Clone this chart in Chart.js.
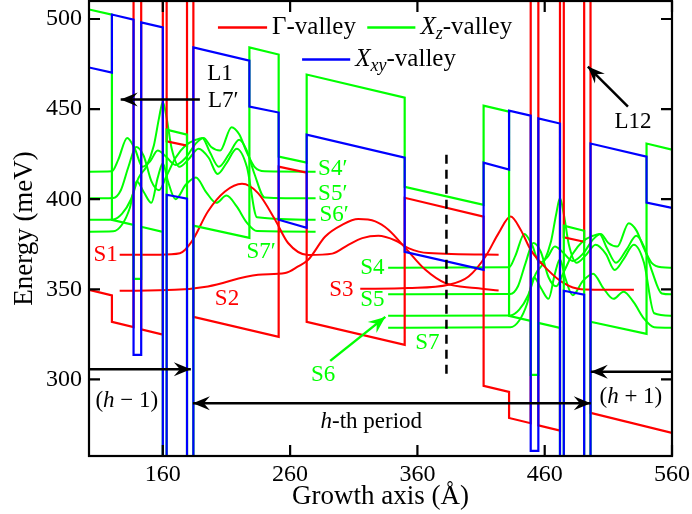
<!DOCTYPE html>
<html>
<head>
<meta charset="utf-8">
<script src="https://cdn.jsdelivr.net/npm/chart.js@4.4.0/dist/chart.umd.min.js"></script>
<style>
  html, body { margin: 0; padding: 0; background: #fff; }
  #wrap { width: 692px; height: 514px; }
</style>
</head>
<body>
<div id="wrap"><canvas id="bands"></canvas></div>
<script>
// axis ticks
const xTicks = [160, 260, 360, 460, 560];
const yTicks = [300, 350, 400, 450, 500];

// band edges: growth position (Å) and energy (meV); 560 = off the top, 200 = off the bottom
const gammaX = [102, 120, 120, 137, 137, 143, 143, 160, 160, 163, 163, 179, 179, 184, 184, 251, 251, 273, 273, 350, 350, 412, 412, 432, 432, 449, 449, 455, 455, 472, 472, 475, 475, 491, 491, 496, 496, 560];
const gammaE = [349.7, 346.6, 331.9, 329.0, 560, 560, 327.8, 324.9, 560, 560, 432.1, 429.7, 560, 560, 334.7, 323.6, 418.1, 414.7, 331.9, 319.2, 400.8, 390.3, 296.4, 293.1, 278.6, 275.7, 560, 560, 274.5, 271.6, 560, 560, 378.8, 376.4, 560, 560, 281.4, 270.3];

const xzX = [102, 120, 120, 137, 137, 143, 143, 160, 160, 163, 163, 179, 179, 184, 184, 228, 228, 251, 251, 273, 273, 350, 350, 412, 412, 432, 432, 449, 449, 455, 455, 472, 472, 475, 475, 491, 491, 496, 496, 540, 540, 560];
const xzE = [505.3, 502.4, 388.6, 385.8, 355.8, 355.8, 384.7, 381.9, 200, 200, 438.6, 435.8, 200, 200, 385.3, 378.6, 484.2, 480.3, 423.6, 420.3, 469.2, 456.4, 406.9, 396.9, 451.9, 448.6, 335.3, 332.5, 302.5, 302.5, 331.4, 328.6, 200, 200, 385.3, 382.5, 200, 200, 332.0, 325.3, 430.9, 427.5];

const xxyX = [102, 120, 120, 137, 137, 143, 143, 160, 160, 163, 163, 179, 179, 184, 184, 228, 228, 251, 251, 273, 273, 350, 350, 412, 412, 432, 432, 449, 449, 455, 455, 472, 472, 475, 475, 491, 491, 496, 496, 540, 540, 560];
const xxyE = [473.1, 470.3, 502.5, 499.7, 313.6, 313.6, 498.1, 495.3, 200, 200, 402.5, 400.3, 200, 200, 484.2, 476.9, 451.4, 448.1, 388.6, 384.2, 435.8, 423.1, 370.8, 360.8, 420.3, 416.4, 449.2, 446.4, 260.3, 260.3, 444.8, 442.0, 200, 200, 349.2, 347.0, 200, 200, 430.9, 423.6, 398.1, 395.2];

// Γ-valley states (probability densities drawn at their levels)
const s1X = [126.1, 157.6, 173.4, 182.8, 195.4, 208.8, 222.2, 234.8, 248.2, 258.4, 274.2, 293.1, 305.7, 316.7, 329.3, 342.7, 352.9, 368.7, 423.8];
const s1E = [369.2, 369.2, 370.0, 376.6, 393.2, 404.3, 408.6, 403.4, 388.6, 375.7, 369.0, 369.8, 374.7, 378.4, 379.7, 377.1, 372.9, 370.1, 369.2];
const s2X = [126.1, 169.4, 195.4, 234.8, 256.1, 266.3, 274.2, 287.6, 300.9, 313.5, 326.9, 337.2, 350.6, 366.3, 382.0, 405.7, 423.8];
const s2E = [349.2, 349.7, 351.6, 358.1, 359.0, 362.7, 366.4, 379.3, 385.8, 389.0, 387.7, 383.1, 372.9, 360.8, 353.4, 350.7, 349.3];
const s3X = [315.1, 352.9, 384.4, 400.2, 413.5, 423.8, 433.2, 441.1, 449.0, 462.4, 475.0, 488.4, 530.1];
const s3E = [350.3, 350.7, 352.5, 357.1, 368.2, 381.2, 390.4, 383.1, 371.9, 360.8, 353.4, 350.1, 349.7];

// X-valley states of period h-1 (primed) and period h
const s4pX = [102, 120, 125, 132, 138, 144, 150, 156, 162, 170, 178, 186, 192, 198, 205, 214, 220, 226, 232, 240, 280];
const s4pE = [415.3, 415.5, 422, 434, 428, 418, 421, 427, 424, 419, 423, 431, 434, 429, 427, 440, 436, 426, 418, 415.5, 415.3];
const s5pX = [102, 121, 127, 133, 139, 145, 151, 157, 163, 170, 178, 186, 191, 197, 204, 212, 220, 226, 232, 240, 280];
const s5pE = [400.5, 400.7, 405, 418, 429, 424, 410, 405, 413, 423, 430, 433, 434, 426, 418, 425, 433, 427, 414, 401, 400.5];
const s6pX = [102, 121, 128, 135, 141, 147, 153, 157, 160, 163, 167, 173, 180, 188, 196, 203, 210, 218, 226, 234, 280];
const s6pE = [388.6, 388.8, 392, 400, 412, 418, 430, 445, 454, 445, 428, 418, 422, 428, 423, 414, 420, 428, 418, 390, 388.6];
const s7pX = [102, 121, 128, 134, 139.5, 145, 151, 156, 160, 164, 170, 178, 186, 194, 202, 210, 218, 226, 234, 280];
const s7pE = [382.0, 382.2, 386, 395, 410, 404, 398, 412, 420, 410, 400, 408, 412, 404, 398, 402, 396, 387, 382.3, 382.0];

const s4X = [337, 432, 437, 444, 450, 456, 462, 468, 474, 482, 490, 498, 504, 510, 517, 526, 532, 538, 544, 552, 560];
const s4E = [362.0, 362.2, 368.7, 380.7, 374.7, 364.7, 367.7, 373.7, 370.7, 365.7, 369.7, 377.7, 380.7, 375.7, 373.7, 386.7, 382.7, 372.7, 364.7, 362.2, 362.0];
const s5X = [337, 433, 439, 445, 451, 457, 463, 469, 475, 482, 490, 498, 503, 509, 516, 524, 532, 538, 544, 552, 560];
const s5E = [347.2, 347.4, 351.7, 364.7, 375.7, 370.7, 356.7, 351.7, 359.7, 369.7, 376.7, 379.7, 380.7, 372.7, 364.7, 371.7, 379.7, 373.7, 360.7, 347.7, 347.2];
const s6X = [337, 433, 440, 447, 453, 459, 465, 469, 472, 475, 479, 485, 492, 500, 508, 515, 522, 530, 538, 546, 560];
const s6E = [335.3, 335.5, 338.7, 346.7, 358.7, 364.7, 376.7, 391.7, 400.7, 391.7, 374.7, 364.7, 368.7, 374.7, 369.7, 360.7, 366.7, 374.7, 364.7, 336.7, 335.3];
const s7X = [337, 433, 440, 446, 451.5, 457, 463, 468, 472, 476, 482, 490, 498, 506, 514, 522, 530, 538, 546, 560];
const s7E = [328.7, 328.9, 332.7, 341.7, 356.7, 350.7, 344.7, 358.7, 366.7, 356.7, 346.7, 354.7, 358.7, 350.7, 344.7, 348.7, 342.7, 333.7, 329.0, 328.7];

const RED = '#ff0000', GREEN = '#00ff00', BLUE = '#0000ff';
const FONT = '"Liberation Serif", "Times New Roman", serif';

const zip = (xs, ys) => xs.map((v, i) => ({ x: v, y: ys[i] }));

function band(xs, ys, color) {
  return { data: zip(xs, ys), borderColor: color, borderWidth: 2.2, showLine: true, pointRadius: 0, tension: 0 };
}
function state(xs, ys, color) {
  return { data: zip(xs, ys), borderColor: color, borderWidth: 2, showLine: true, pointRadius: 0, cubicInterpolationMode: 'monotone' };
}

// first dataset is drawn on top
const datasets = [
  band(xxyX, xxyE, BLUE),
  band(xzX, xzE, GREEN),
  band(gammaX, gammaE, RED),
  state(s1X, s1E, RED), state(s2X, s2E, RED), state(s3X, s3E, RED),
  state(s4pX, s4pE, GREEN), state(s5pX, s5pE, GREEN), state(s6pX, s6pE, GREEN), state(s7pX, s7pE, GREEN),
  state(s4X, s4E, GREEN), state(s5X, s5E, GREEN), state(s6X, s6E, GREEN), state(s7X, s7E, GREEN)
];

// text annotations (data coordinates)
const notes = [
  { parts: [['S1', '']], x: 115.1, y: 369.2, color: RED },
  { parts: [['S2', '']], x: 210.4, y: 344.7, color: RED },
  { parts: [['S3', '']], x: 300.2, y: 349.7, color: RED },
  { parts: [['S4', '']], x: 324.6, y: 361.9, color: GREEN },
  { parts: [['S5', '']], x: 324.6, y: 344.2, color: GREEN },
  { parts: [['S6', '']], x: 286.0, y: 302.5, color: GREEN },
  { parts: [['S7', '']], x: 367.9, y: 320.3, color: GREEN },
  { parts: [['S4\u2032', '']], x: 293.5, y: 416.9, color: GREEN },
  { parts: [['S5\u2032', '']], x: 293.5, y: 403.1, color: GREEN },
  { parts: [['S6\u2032', '']], x: 294.5, y: 391.4, color: GREEN },
  { parts: [['S7\u2032', '']], x: 237.2, y: 370.8, color: GREEN },
  { parts: [['L1', '']], x: 204.9, y: 469.7, color: '#000' },
  { parts: [['L7\u2032', '']], x: 207.5, y: 454.7, color: '#000' },
  { parts: [['L12', '']], x: 529.3, y: 443.1, color: '#000' },
  { parts: [['(', ''], ['h', 'i'], [' \u2212 1)', '']], x: 131.7, y: 288.1, color: '#000' },
  { parts: [['(', ''], ['h', 'i'], [' + 1)', '']], x: 527.7, y: 290.3, color: '#000' },
  { parts: [['h', 'i'], ['-th period', '']], x: 323.8, y: 276.4, color: '#000' }
];

const arrows = [
  { x0: 189.1, y0: 455.3, x1: 126.9, y1: 455.3, color: '#000' },
  { x0: 525.4, y0: 451.4, x1: 493.9, y1: 473.6, color: '#000' },
  { x0: 102, y0: 305.7, x1: 182.0, y1: 305.7, color: '#000' },
  { x0: 560, y0: 304.3, x1: 496.2, y1: 304.3, color: '#000' },
  { x0: 183.6, y0: 286.8, x1: 496.2, y1: 286.8, color: '#000', both: true },
  { x0: 291.5, y0: 310.3, x1: 334.8, y1: 334.7, color: GREEN }
];

const legendRows = [
  { color: RED, x0: 203.3, x1: 241.9, tx: 245.8, y: 495.3, parts: [['\u0393-valley', '']] },
  { color: GREEN, x0: 320.6, x1: 358.4, tx: 362.4, y: 495.3, parts: [['X', 'i'], ['z', 'is'], ['-valley', '']] },
  { color: BLUE, x0: 269.4, x1: 307.2, tx: 311.2, y: 477.5, parts: [['X', 'i'], ['xy', 'is'], ['-valley', '']] }
];

function fontOf(style, size) {
  const it = style.includes('i') ? 'italic ' : '';
  const sz = style.includes('s') ? Math.round(size * 0.7) : size;
  return it + sz + 'px ' + FONT;
}

function rich(ctx, parts, x, y, size, color, align) {
  const widths = parts.map(([t, s]) => { ctx.font = fontOf(s, size); return ctx.measureText(t).width; });
  const total = widths.reduce((a, b) => a + b, 0);
  let cx = align === 'center' ? x - total / 2 : x;
  ctx.fillStyle = color;
  ctx.textBaseline = 'middle';
  ctx.textAlign = 'left';
  parts.forEach(([t, s], i) => {
    ctx.font = fontOf(s, size);
    ctx.fillText(t, cx, s.includes('s') ? y + size * 0.28 : y);
    cx += widths[i];
  });
}

function head(ctx, x0, y0, x1, y1) {
  const a = Math.atan2(y1 - y0, x1 - x0);
  ctx.save();
  ctx.translate(x1, y1);
  ctx.rotate(a);
  ctx.beginPath();
  ctx.moveTo(0, 0);
  ctx.lineTo(-17, -7);
  ctx.lineTo(-11, 0);
  ctx.lineTo(-17, 7);
  ctx.closePath();
  ctx.fill();
  ctx.restore();
}

const annot = {
  id: 'annot',
  afterDatasetsDraw(chart) {
    const { ctx, chartArea: a, scales: { x, y } } = chart;
    const px = v => x.getPixelForValue(v);
    const py = v => y.getPixelForValue(v);
    ctx.save();

    // frame and inward ticks on all four sides
    ctx.strokeStyle = '#000';
    ctx.lineWidth = 2.2;
    ctx.strokeRect(a.left, a.top, a.right - a.left, a.bottom - a.top);
    ctx.beginPath();
    xTicks.forEach(v => {
      const p = px(v);
      ctx.moveTo(p, a.bottom); ctx.lineTo(p, a.bottom - 11);
      ctx.moveTo(p, a.top); ctx.lineTo(p, a.top + 11);
    });
    yTicks.forEach(v => {
      const p = py(v);
      ctx.moveTo(a.left, p); ctx.lineTo(a.left + 11, p);
      ctx.moveTo(a.right, p); ctx.lineTo(a.right - 11, p);
    });
    ctx.stroke();

    // dashed marker
    ctx.setLineDash([9, 6]);
    ctx.lineWidth = 2.5;
    ctx.beginPath();
    ctx.moveTo(px(382.8), py(424.7));
    ctx.lineTo(px(382.8), py(300.8));
    ctx.stroke();
    ctx.setLineDash([]);

    // arrows
    arrows.forEach(r => {
      const x0 = px(r.x0), y0 = py(r.y0), x1 = px(r.x1), y1 = py(r.y1);
      ctx.strokeStyle = r.color;
      ctx.fillStyle = r.color;
      ctx.lineWidth = 2.5;
      ctx.beginPath();
      ctx.moveTo(x0, y0);
      ctx.lineTo(x1, y1);
      ctx.stroke();
      head(ctx, x0, y0, x1, y1);
      if (r.both) head(ctx, x1, y1, x0, y0);
    });

    // labels
    notes.forEach(n => rich(ctx, n.parts, px(n.x), py(n.y), 23, n.color, 'center'));

    // legend
    legendRows.forEach(r => {
      ctx.strokeStyle = r.color;
      ctx.lineWidth = 2.5;
      ctx.beginPath();
      ctx.moveTo(px(r.x0), py(r.y));
      ctx.lineTo(px(r.x1), py(r.y));
      ctx.stroke();
      rich(ctx, r.parts, px(r.tx), py(r.y), 25, '#000', 'left');
    });

    ctx.restore();
  }
};

new Chart(document.getElementById('bands'), {
  type: 'scatter',
  data: { datasets },
  options: {
    responsive: true,
    maintainAspectRatio: false,
    animation: false,
    layout: { padding: { top: 1, right: 20, left: 0, bottom: 0 } },
    plugins: { legend: { display: false }, tooltip: { enabled: false } },
    scales: {
      x: {
        type: 'linear',
        min: 102,
        max: 560,
        afterBuildTicks: s => { s.ticks = xTicks.map(v => ({ value: v })); },
        afterFit: s => { s.height = 58; s.paddingLeft = 0; s.paddingRight = 0; },
        grid: { display: false, drawTicks: false },
        border: { display: false },
        ticks: { color: '#000', font: { family: FONT, size: 24 }, padding: 4, maxRotation: 0 },
        title: { display: true, text: 'Growth axis (\u00c5)', color: '#000', font: { family: FONT, size: 27 }, padding: { top: 0, bottom: 1 } }
      },
      y: {
        min: 257.5,
        max: 510,
        afterBuildTicks: s => { s.ticks = yTicks.map(v => ({ value: v })); },
        afterFit: s => { s.width = 89; s.paddingTop = 0; s.paddingBottom = 0; },
        grid: { display: false, drawTicks: false },
        border: { display: false },
        ticks: { color: '#000', font: { family: FONT, size: 24 }, padding: 7 },
        title: { display: true, text: 'Energy (meV)', color: '#000', font: { family: FONT, size: 27 }, padding: { top: 9, bottom: 0 } }
      }
    }
  },
  plugins: [annot]
});
</script>
</body>
</html>
